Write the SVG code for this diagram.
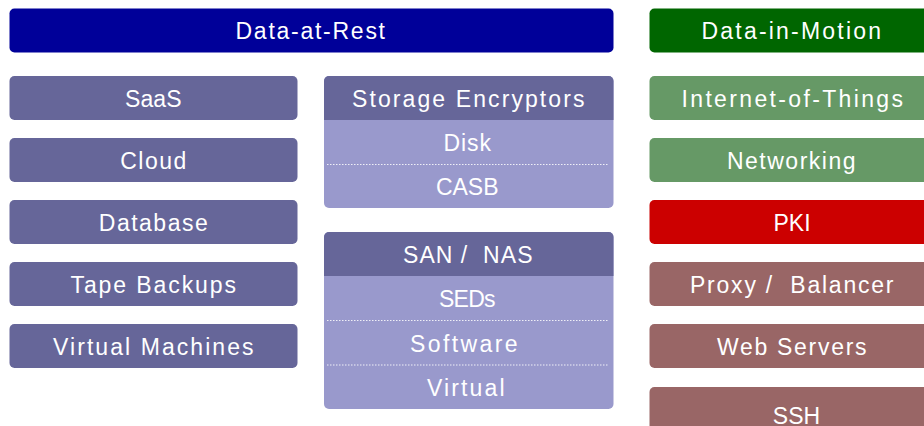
<svg xmlns="http://www.w3.org/2000/svg" width="924" height="426" viewBox="0 0 924 426">
<style>
text{font-family:"Liberation Sans",Arial,sans-serif;font-size:23px;fill:#ffffff;text-anchor:middle;letter-spacing:1.5px}
.title-rest{fill:#000099}
.title-motion{fill:#006600}
.dark{fill:#666699}
.light{fill:#9999cc}
.green{fill:#669966}
.red{fill:#cc0000}
.brown{fill:#996666}
.sep{stroke:#ffffff;stroke-width:1;stroke-dasharray:1.5 1.5;opacity:0.85}
</style>
<rect width="924" height="426" fill="#ffffff"/>
<g id="data-at-rest">
<rect class="title-rest" x="9.5" y="8.5" width="604" height="44" rx="5"/>
<text x="311" y="39" textLength="151" lengthAdjust="spacing">Data-at-Rest</text>
</g>
<g id="saas">
<rect class="dark" x="9.5" y="76" width="288" height="44" rx="5"/>
<text x="154" y="106.5" textLength="58" lengthAdjust="spacing">SaaS</text>
</g>
<g id="cloud">
<rect class="dark" x="9.5" y="138" width="288" height="44" rx="5"/>
<text x="154" y="168.5">Cloud</text>
</g>
<g id="database">
<rect class="dark" x="9.5" y="200" width="288" height="44" rx="5"/>
<text x="154" y="230.5">Database</text>
</g>
<g id="tape-backups">
<rect class="dark" x="9.5" y="262" width="288" height="44" rx="5"/>
<text x="154" y="292.5" textLength="167" lengthAdjust="spacing">Tape Backups</text>
</g>
<g id="virtual-machines">
<rect class="dark" x="9.5" y="324" width="288" height="44" rx="5"/>
<text x="154" y="354.5" textLength="202" lengthAdjust="spacing">Virtual Machines</text>
</g>
<g id="storage-encryptors">
<rect class="light" x="324" y="76" width="289.5" height="132" rx="5"/>
<path class="dark" d="M324,120 V81 a5,5 0 0 1 5,-5 H608.5 a5,5 0 0 1 5,5 V120 Z"/>
<line class="sep" x1="327" y1="164.5" x2="609" y2="164.5"/>
<text x="469" y="106.5" textLength="234" lengthAdjust="spacing">Storage Encryptors</text>
<text x="468" y="150.5" textLength="49" lengthAdjust="spacing">Disk</text>
<text x="468" y="194.5" textLength="64" lengthAdjust="spacing">CASB</text>
</g>
<g id="san-nas">
<rect class="light" x="324" y="232" width="289.5" height="177" rx="5"/>
<path class="dark" d="M324,276 V237 a5,5 0 0 1 5,-5 H608.5 a5,5 0 0 1 5,5 V276 Z"/>
<line class="sep" x1="327" y1="320.5" x2="609" y2="320.5"/>
<line class="sep" x1="327" y1="365" x2="609" y2="365"/>
<text x="468.5" y="262.5" textLength="131" lengthAdjust="spacing">SAN /&#160; NAS</text>
<text x="468" y="307" textLength="58" lengthAdjust="spacing">SEDs</text>
<text x="464.5" y="351.5" textLength="109" lengthAdjust="spacing">Software</text>
<text x="466.5" y="395.5" textLength="79" lengthAdjust="spacing">Virtual</text>
</g>
<g id="data-in-motion">
<rect class="title-motion" x="649.5" y="8.5" width="290" height="44" rx="5"/>
<text x="792" y="39" textLength="181" lengthAdjust="spacing">Data-in-Motion</text>
</g>
<g id="internet-of-things">
<rect class="green" x="649.5" y="76" width="290" height="44" rx="5"/>
<text x="793" y="106.5" textLength="223" lengthAdjust="spacing">Internet-of-Things</text>
</g>
<g id="networking">
<rect class="green" x="649.5" y="138" width="290" height="44" rx="5"/>
<text x="792" y="168.5">Networking</text>
</g>
<g id="pki">
<rect class="red" x="649.5" y="200" width="290" height="44" rx="5"/>
<text x="792" y="230.5" style="letter-spacing:0">PKI</text>
</g>
<g id="proxy-balancer">
<rect class="brown" x="649.5" y="262" width="290" height="44" rx="5"/>
<text x="792.5" y="292.5" textLength="205" lengthAdjust="spacing">Proxy /&#160; Balancer</text>
</g>
<g id="web-servers">
<rect class="brown" x="649.5" y="324" width="290" height="44" rx="5"/>
<text x="792.5" y="354.5" textLength="151" lengthAdjust="spacing">Web Servers</text>
</g>
<g id="ssh">
<rect class="brown" x="649.5" y="387" width="290" height="60" rx="5"/>
<text x="796.5" y="424" style="letter-spacing:0">SSH</text>
</g>
<g id="connectors"/>
</svg>
